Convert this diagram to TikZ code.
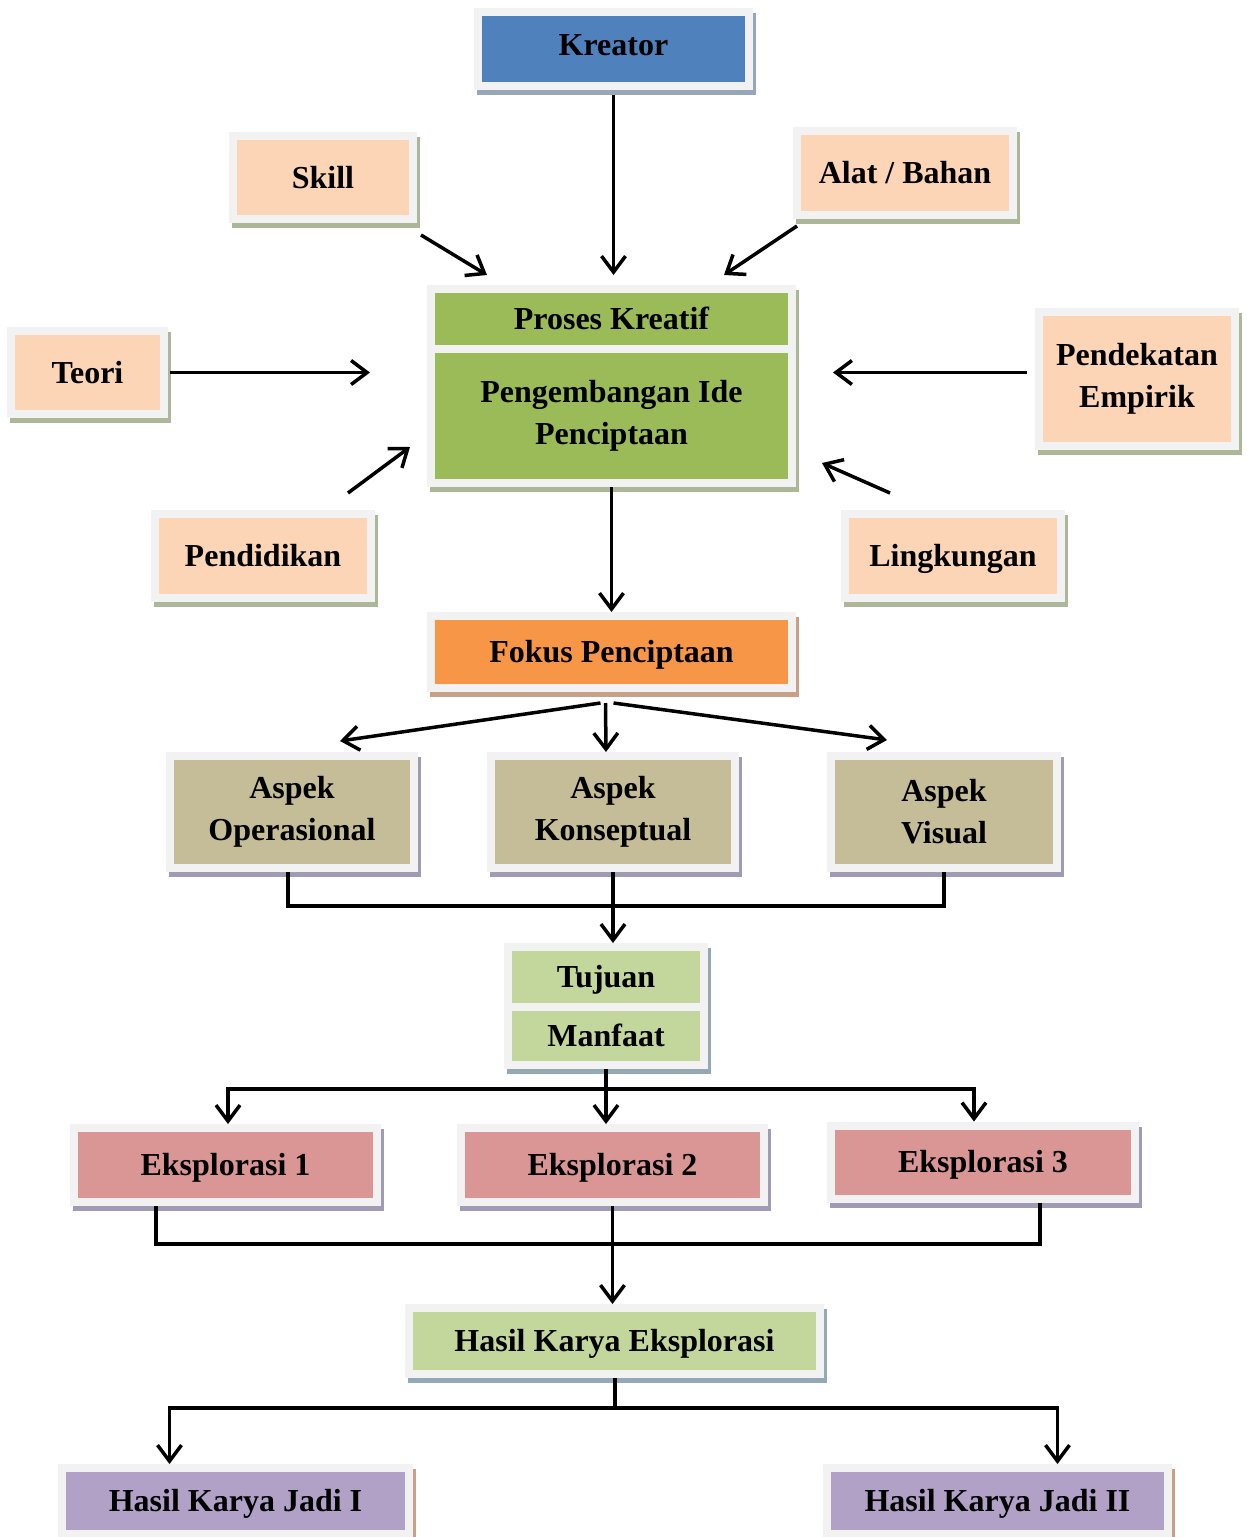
\documentclass[tikz,border=0pt]{standalone}
\usepackage{fontspec}
\setmainfont{Liberation Serif}
\usetikzlibrary{arrows.meta, positioning, calc}

\definecolor{bingkai}{HTML}{F2F2F2}
\definecolor{biru}{HTML}{4F81BD}
\definecolor{krem}{HTML}{FBD5B5}
\definecolor{hijau}{HTML}{9BBB59}
\definecolor{oranye}{HTML}{F79646}
\definecolor{khaki}{HTML}{C4BD97}
\definecolor{hijaumuda}{HTML}{C3D69B}
\definecolor{merah}{HTML}{D99694}
\definecolor{ungu}{HTML}{B2A1C7}
\definecolor{bayangbiru}{HTML}{98A6B9}
\definecolor{bayanghijau}{HTML}{ABB797}
\definecolor{bayangcoklat}{HTML}{C9A085}
\definecolor{bayangungu}{HTML}{A09BB2}
\definecolor{bayangtosca}{HTML}{93AAB6}

\begin{document}
\begin{tikzpicture}[
    x=1pt, y=-1pt,
    kotak/.style={
        rectangle,
        draw=bingkai,
        fill=#1,
        line width=8pt,
        inner sep=0pt,
        align=center,
        font=\fontsize{32}{42}\selectfont\bfseries
    },
    bayangan/.style={
        preaction={draw=#1, fill=#1, line width=8pt,
            transform canvas={shift={(3pt,-5pt)}}}
    },
    satu/.style={
        text height=25.6pt,
        text depth=4.5pt
    },
    panah/.style={
        -{Straight Barb[length=16pt, width=24pt]},
        line width=3.5pt
    },
    garis/.style={
        line width=4pt
    }
]

\useasboundingbox (0,0) rectangle (1247,1537);

% Kolom tengah
\node (kreator) [kotak=biru, bayangan=bayangbiru, satu, text depth=13pt,
                 minimum width=271pt, minimum height=74pt]
    at (613.5,49) {Kreator};

\node (proses) [kotak=hijau, bayangan=bayanghijau, satu,
                minimum width=361pt, minimum height=60pt,
                below=195pt of kreator, xshift=-2pt]
    {Proses Kreatif};

\node (ide) [kotak=hijau, bayangan=bayanghijau,
             minimum width=361pt, minimum height=134pt,
             below=-8pt of proses]
    {Pengembangan Ide\\Penciptaan};

\node (fokus) [kotak=oranye, bayangan=bayangcoklat, satu,
               minimum width=361pt, minimum height=72pt,
               below=125pt of ide]
    {Fokus Penciptaan};

% Faktor di sekitar proses kreatif
\node (skill) [kotak=krem, bayangan=bayanghijau, satu,
               minimum width=180pt, minimum height=83pt]
    at (323,177.5) {Skill};

\node (alat) [kotak=krem, bayangan=bayanghijau, satu,
              minimum width=216pt, minimum height=84pt]
    at (905,173) {Alat / Bahan};

\node (teori) [kotak=krem, bayangan=bayanghijau, satu,
               minimum width=153pt, minimum height=83pt]
    at (87.5,372.5) {Teori};

\node (empirik) [kotak=krem, bayangan=bayanghijau,
                 minimum width=196pt, minimum height=134pt]
    at (1137,379) {Pendekatan\\Empirik};

\node (pendidikan) [kotak=krem, bayangan=bayanghijau, satu,
                    minimum width=216pt, minimum height=84pt]
    at (263,556) {Pendidikan};

\node (lingkungan) [kotak=krem, bayangan=bayanghijau, satu,
                    minimum width=216pt, minimum height=84pt]
    at (953,556) {Lingkungan};

% Aspek
\node (konseptual) [kotak=khaki, bayangan=bayangungu,
                    minimum width=244pt, minimum height=112pt,
                    below=60pt of fokus, xshift=1.5pt]
    {Aspek\\Konseptual};

\node (operasional) [kotak=khaki, bayangan=bayangungu,
                     minimum width=244pt, minimum height=112pt,
                     left=69pt of konseptual]
    {Aspek\\Operasional};

\node (visual) [kotak=khaki, bayangan=bayangungu,
                minimum width=226pt, minimum height=112pt,
                right=88pt of konseptual]
    {Aspek\\Visual};

% Tujuan dan manfaat
\node (tujuan) [kotak=hijaumuda, bayangan=bayangtosca, satu,
                minimum width=196pt, minimum height=60pt,
                below=71pt of konseptual, xshift=-7pt]
    {Tujuan};

\node (manfaat) [kotak=hijaumuda, bayangan=bayangtosca, satu,
                 minimum width=196pt, minimum height=58pt,
                 below=-8pt of tujuan]
    {Manfaat};

% Eksplorasi
\node (eks2) [kotak=merah, bayangan=bayangungu, satu,
              minimum width=303pt, minimum height=74pt,
              below=55pt of manfaat, xshift=6.5pt]
    {Eksplorasi 2};

\node (eks1) [kotak=merah, bayangan=bayangungu, satu,
              minimum width=303pt, minimum height=74pt,
              left=76pt of eks2]
    {Eksplorasi 1};

\node (eks3) [kotak=merah, bayangan=bayangungu, satu,
              minimum width=304pt, minimum height=73pt,
              right=59pt of eks2, yshift=3pt]
    {Eksplorasi 3};

% Hasil karya
\node (hasil) [kotak=hijaumuda, bayangan=bayangtosca, satu,
               minimum width=411pt, minimum height=66pt,
               below=98pt of eks2, xshift=2pt]
    {Hasil Karya Eksplorasi};

\node (jadi1) [kotak=ungu, bayangan=bayangcoklat, satu,
               minimum width=347pt, minimum height=66pt]
    at (235.5,1501) {Hasil Karya Jadi I};

\node (jadi2) [kotak=ungu, bayangan=bayangcoklat, satu,
               minimum width=341pt, minimum height=66pt]
    at (997.5,1501) {Hasil Karya Jadi II};

% Titik simpul garis
\coordinate (simpul1) at ($(konseptual.south)+(0,34)$);
\coordinate (simpul2) at ($(manfaat.south)+(0,20)$);
\coordinate (simpul3) at ($(eks2.south)+(0,38)$);
\coordinate (simpul4) at ($(hasil.south)+(0,30)$);

% Panah masuk ke proses kreatif
\draw[panah, shorten <=5pt, shorten >=10pt] (kreator.south) -- (kreator.south |- proses.north);
\draw[panah] ([shift={(4,12)}]skill.south east) -- ([shift={(60,-10)}]proses.north west);
\draw[panah] ([shift={(4,7)}]alat.south west) -- ([shift={(-72,-10)}]proses.north east);
\draw[panah, shorten <=2pt, shorten >=57pt] (teori.east) -- (teori.east -| ide.west);
\draw[panah, shorten <=8pt, shorten >=37pt] (empirik.west |- teori.east) -- (ide.east |- teori.east);
\draw[panah] ([shift={(-27,-17)}]pendidikan.north east) -- ([shift={(-17,31)}]ide.west);
\draw[panah] ([shift={(49,-17)}]lingkungan.north west) -- ([shift={(26,47)}]ide.east);

% Alur ke bawah
\draw[panah] (ide.south) -- (fokus.north);
\draw[panah] ([shift={(-11,11)}]fokus.south) -- ([shift={(48,-11)}]operasional.north);
\draw[panah] ([shift={(-6,11)}]fokus.south) -- ([shift={(-7,0)}]konseptual.north);
\draw[panah] ([shift={(2,11)}]fokus.south) -- ([shift={(-57,-12)}]visual.north);

\draw[garis] ([xshift=-4pt]operasional.south) |- (simpul1) -| (visual.south);
\draw[panah] (konseptual.south) -- (konseptual.south |- tujuan.north);

\draw[panah] (manfaat.south) -- (manfaat.south |- eks2.north);
\draw[panah] (simpul2) -| ([xshift=2.5pt]eks1.north);
\draw[panah] (simpul2) -| ([xshift=-9pt]eks3.north);

\draw[garis] ([xshift=-70pt]eks1.south) |- (simpul3) -| ([xshift=57pt]eks3.south);
\draw[panah] (eks2.south) -- (eks2.south |- hasil.north);

\draw[garis] (hasil.south) -- (simpul4);
\draw[panah] (simpul4) -| ([xshift=-66pt]jadi1.north);
\draw[panah] (simpul4) -| ([xshift=60pt]jadi2.north);

\end{tikzpicture}
\end{document}
